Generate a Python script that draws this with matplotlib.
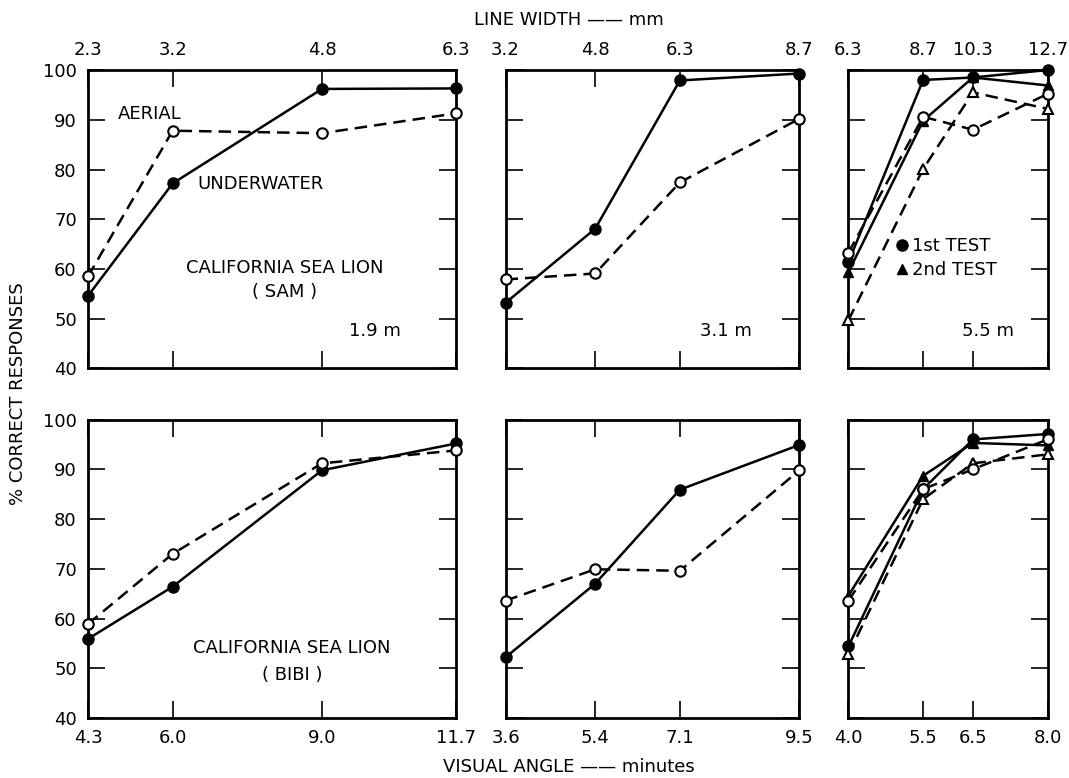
import numpy as np
import matplotlib
matplotlib.use('Agg')
import matplotlib.pyplot as plt
from matplotlib.lines import Line2D

plt.rcParams['font.family'] = 'DejaVu Sans'

# visual angle (minutes) = bottom axis, line width (mm) = top axis
va_19 = [4.3, 6.0, 9.0, 11.7]
lw_19 = ['2.3', '3.2', '4.8', '6.3']
va_31 = [3.6, 5.4, 7.1, 9.5]
lw_31 = ['3.2', '4.8', '6.3', '8.7']
va_55 = [4.0, 5.5, 6.5, 8.0]
lw_55 = ['6.3', '8.7', '10.3', '12.7']

# SAM (top row)
sam19_under = [54.6, 77.2, 96.2, 96.3]
sam19_aerial = [58.5, 87.8, 87.3, 91.3]
sam31_under = [53.2, 68.1, 97.9, 99.3]
sam31_aerial = [57.9, 59.1, 77.4, 90.2]
sam55_under1 = [61.4, 98.0, 98.5, 100.0]
sam55_aerial1 = [63.3, 90.6, 88.0, 95.2]
sam55_under2 = [59.4, 89.8, 98.5, 96.9]
sam55_aerial2 = [49.7, 80.1, 95.5, 92.2]

# BIBI (bottom row)
bibi19_under = [55.9, 66.4, 89.8, 95.2]
bibi19_aerial = [58.9, 73.0, 91.2, 93.8]
bibi31_under = [52.2, 67.0, 85.9, 94.9]
bibi31_aerial = [63.6, 69.9, 69.6, 89.8]
bibi55_under1 = [54.4, 86.0, 96.0, 97.1]
bibi55_aerial1 = [63.6, 86.0, 90.0, 96.0]
bibi55_under2 = [64.6, 88.7, 95.3, 94.8]
bibi55_aerial2 = [52.8, 84.0, 91.2, 93.0]

yticks = [40, 50, 60, 70, 80, 90, 100]

fig = plt.figure(figsize=(10.69, 7.78), dpi=100)
gs = fig.add_gridspec(2, 3, width_ratios=[7.4, 5.9, 4.0],
                      left=0.0823, right=0.980, top=0.910, bottom=0.0771,
                      wspace=0.171, hspace=0.171)

FS = 13
LW = 1.8
DASH = (5, 2.8)


def under(ax, x, y, m='o', ms=8):
    ax.plot(x, y, '-', color='black', lw=LW, marker=m, ms=ms,
            mfc='black', mec='black', clip_on=False, zorder=3)


def aerial(ax, x, y, m='o', ms=7.5):
    ax.plot(x, y, '--', color='black', lw=LW, dashes=DASH, marker=m, ms=ms,
            mfc='white', mec='black', mew=1.5, clip_on=False, zorder=4)


def setup(ax, va, lw, row, col):
    ax.set_xlim(va[0], va[-1])
    ax.set_ylim(40, 100)
    for s in ax.spines.values():
        s.set_linewidth(2)
    ax.set_xticks(va)
    ax.set_yticks(yticks)
    ax.tick_params(direction='in', length=12, width=1.2, top=True, right=True,
                   labelsize=FS, pad=8)
    if row == 0:
        ax.tick_params(labelbottom=False, labeltop=True)
        ax.set_xticklabels(lw)
    else:
        ax.set_xticklabels(['%.1f' % v for v in va])
    if col != 0:
        ax.tick_params(labelleft=False)


ax = fig.add_subplot(gs[0, 0])
setup(ax, va_19, lw_19, 0, 0)
aerial(ax, va_19, sam19_aerial)
under(ax, va_19, sam19_under)
ax.text(4.9, 91.1, 'AERIAL', fontsize=FS, va='center')
ax.text(6.5, 77, 'UNDERWATER', fontsize=FS, va='center')
ax.text(8.25, 60.2, 'CALIFORNIA SEA LION', fontsize=FS, ha='center', va='center')
ax.text(8.25, 55.4, '( SAM )', fontsize=FS, ha='center', va='center')
ax.text(10.07, 47.6, '1.9 m', fontsize=FS, ha='center', va='center')

ax = fig.add_subplot(gs[0, 1])
setup(ax, va_31, lw_31, 0, 1)
aerial(ax, va_31, sam31_aerial)
under(ax, va_31, sam31_under)
ax.text(8.02, 47.6, '3.1 m', fontsize=FS, ha='center', va='center')

ax = fig.add_subplot(gs[0, 2])
setup(ax, va_55, lw_55, 0, 2)
aerial(ax, va_55, sam55_aerial2, m='^', ms=6.5)
aerial(ax, va_55, sam55_aerial1)
under(ax, va_55, sam55_under2, m='^', ms=7)
under(ax, va_55, sam55_under1)
ax.text(6.8, 47.6, '5.5 m', fontsize=FS, ha='center', va='center')
handles = [Line2D([], [], ls='none', marker='o', ms=8, color='black'),
           Line2D([], [], ls='none', marker='^', ms=7, color='black')]
ax.legend(handles, ['1st TEST', '2nd TEST'], loc='upper left',
          bbox_to_anchor=(0.24, 0.44), frameon=False, fontsize=FS,
          handlelength=0.6, handletextpad=0.3, labelspacing=0.35,
          borderaxespad=0, borderpad=0)

ax = fig.add_subplot(gs[1, 0])
setup(ax, va_19, lw_19, 1, 0)
aerial(ax, va_19, bibi19_aerial)
under(ax, va_19, bibi19_under)
ax.text(8.4, 54.0, 'CALIFORNIA SEA LION', fontsize=FS, ha='center', va='center')
ax.text(8.4, 48.6, '( BIBI )', fontsize=FS, ha='center', va='center')

ax = fig.add_subplot(gs[1, 1])
setup(ax, va_31, lw_31, 1, 1)
aerial(ax, va_31, bibi31_aerial)
under(ax, va_31, bibi31_under)

ax = fig.add_subplot(gs[1, 2])
setup(ax, va_55, lw_55, 1, 2)
aerial(ax, va_55, bibi55_aerial2, m='^', ms=6.5)
aerial(ax, va_55, bibi55_aerial1)
under(ax, va_55, bibi55_under2, m='^', ms=7)
under(ax, va_55, bibi55_under1)

fig.text(0.532, 0.974, 'LINE WIDTH —— mm', fontsize=FS, ha='center', va='center')
fig.text(0.532, 0.014, 'VISUAL ANGLE —— minutes', fontsize=FS, ha='center', va='center')
fig.text(0.017, 0.494, '% CORRECT RESPONSES', fontsize=FS, rotation=90,
         ha='center', va='center')

fig.savefig('out.png', dpi=100)
